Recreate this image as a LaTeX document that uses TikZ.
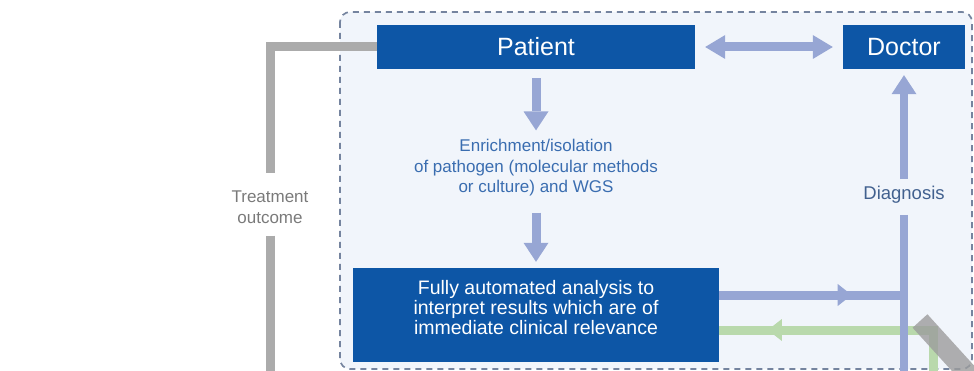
\documentclass[tikz,border=0pt]{standalone}
\usepackage{fontspec}
\setmainfont{Liberation Sans}
\usetikzlibrary{arrows.meta,decorations.markings}

\definecolor{boxblue}{HTML}{0D56A6}
\definecolor{flowblue}{HTML}{97A6D4}
\definecolor{flowgreen}{HTML}{B9D9AC}
\definecolor{loopgray}{HTML}{ABABAB}
\definecolor{bandgray}{HTML}{9C9C9C}
\definecolor{panelfill}{HTML}{F1F5FB}
\definecolor{panelline}{HTML}{75849F}
\definecolor{stepblue}{HTML}{3A6DB0}
\definecolor{diagtext}{HTML}{42618F}
\definecolor{notegray}{HTML}{7A7A7A}

\begin{document}
\begin{tikzpicture}[x=1pt,y=-1pt,
  keybox/.style={fill=boxblue, text=white, inner sep=0pt},
  flow/.style={draw=flowblue, line width=9pt},
  greenflow/.style={draw=flowgreen, line width=9pt},
  loop/.style={draw=loopgray, line width=9pt},
  bigtip/.style={-{Triangle[width=25pt,length=19pt,line width=0pt]}},
  bothtips/.style={{Triangle[width=24pt,length=20pt,line width=0pt]}-{Triangle[width=24pt,length=20pt,line width=0pt]}},
  midtip/.style n args={2}{postaction={decorate},
    decoration={markings, mark=at position #1 with {\arrow[#2]{Triangle[width=22pt,length=14pt,line width=0pt]}}}},
]
\useasboundingbox (0,0) rectangle (974,371);
\begin{scope}
\clip (0,0) rectangle (974,371);

% shaded panel
\draw[fill=panelfill, draw=panelline, line width=1.7pt, dash pattern=on 6pt off 5pt, rounded corners=10pt]
  (340,12) rectangle (972,369);

% named end points at the lower edge
\coordinate (grayfoot) at (270,371);
\coordinate (diagfoot) at (904,371);
\coordinate (greenfoot) at (933,371);

% boxes and labels
\node[keybox, minimum width=318pt, minimum height=44pt, font=\fontsize{25}{30}\selectfont]
  (patient) at (536,47) {Patient};
\node[keybox, minimum width=122pt, minimum height=44pt, font=\fontsize{25}{30}\selectfont]
  (doctor) at (904,47) {Doctor};
\node[text=stepblue, align=center, inner sep=0pt, font=\fontsize{17}{20.5}\selectfont]
  (enrich) at (536,168) {Enrichment/isolation\\of pathogen (molecular methods\\or culture) and WGS};
\node[keybox, minimum width=366pt, minimum height=94pt] (fully) at (536,315) {};
\node[text=white, align=center, inner sep=0pt, font=\fontsize{19.5}{20}\selectfont]
  (fullytext) at ([yshift=7pt]fully.center) {Fully automated analysis to\\interpret results which are of\\immediate clinical relevance};
\node[text=diagtext, inner sep=0pt, font=\fontsize{18.5}{22}\selectfont]
  (diag) at (904,195) {Diagnosis};
\node[text=notegray, align=center, inner sep=0pt, font=\fontsize{17}{21}\selectfont]
  (treat) at (270,207) {Treatment\\outcome};

% treatment outcome loop
\draw[loop] (patient.west) -| ([yshift=17pt]treat.north);
\draw[loop] ([yshift=-12pt]treat.south) -- (grayfoot);

% main flow
\draw[flow, bothtips] ([xshift=10pt]patient.east) -- ([xshift=-10pt]doctor.west);
\draw[flow, bigtip] ([yshift=-9pt]patient.south) -- ([yshift=9pt]enrich.north);
\draw[flow, bigtip] ([yshift=-16pt]enrich.south) -- ([yshift=6pt]fully.north);

% feedback into the analysis
\draw[greenflow, midtip={0.809}{flowgreen}] (greenfoot) |- ([yshift=-15pt]fully.east);

% results to diagnosis
\coordinate (fromfully) at ([yshift=20pt]fully.east);
\draw[flow, midtip={0.717}{flowblue}] (fromfully) -- (fromfully -| diagfoot);
\draw[flow, line width=8pt] ([yshift=-11pt]diag.south) -- (diagfoot);
\draw[flow, line width=8pt, bigtip] ([yshift=7pt]diag.north) -- ([yshift=-6pt]doctor.south);

% grey band entering at the lower right
\draw[draw=bandgray, opacity=0.8, line width=20pt] (920,321) -- (990,398);
\end{scope}
\end{tikzpicture}
\end{document}
